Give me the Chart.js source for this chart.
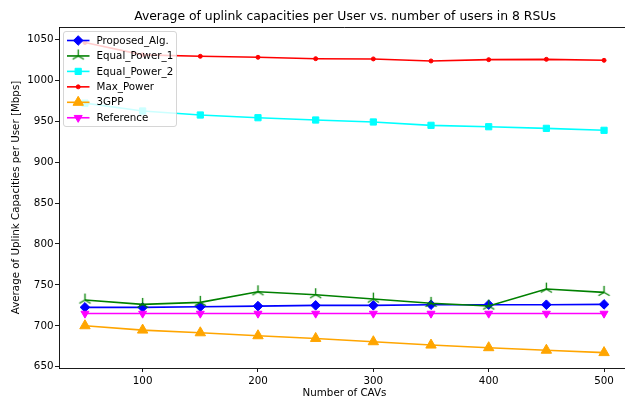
<!DOCTYPE html>
<html><head><meta charset="utf-8">
<script src="https://cdn.jsdelivr.net/npm/chart.js@4/dist/chart.umd.min.js"></script>
<style>html,body{margin:0;padding:0;background:#fff;overflow:hidden}#wrap{width:625px;height:401px;position:relative;overflow:hidden}canvas{display:block}</style>
</head><body><div id="wrap"><canvas id="c" width="637" height="401"></canvas></div>
<script>
// ---- data ----
const xValues = [50, 100, 150, 200, 250, 300, 350, 400, 450, 500];
const proposedAlg = [722.6, 722.6, 723.3, 724.1, 725.0, 725.0, 725.8, 725.8, 725.8, 726.2];
const equalPower1 = [731.5, 726.2, 728.7, 741.6, 738.0, 732.7, 727.5, 724.2, 744.9, 740.9];
const equalPower2 = [972.0, 962.4, 957.5, 954.2, 951.4, 949.0, 944.9, 943.2, 941.2, 938.8];
const maxPower = [1046.0, 1031.0, 1029.2, 1028.0, 1026.3, 1026.0, 1023.5, 1025.1, 1025.5, 1024.3];
const gpp3 = [700.1, 694.8, 691.5, 687.9, 684.6, 680.6, 676.5, 673.3, 670.2, 667.3];
const referenceVals = [715, 715, 715, 715, 715, 715, 715, 715, 715, 715];
const seriesNames = ['Proposed_Alg.', 'Equal_Power_1', 'Equal_Power_2', 'Max_Power', '3GPP', 'Reference'];
const xTickValues = [100, 200, 300, 400, 500];
const yTickValues = [650, 700, 750, 800, 850, 900, 950, 1000, 1050];
const chartTitle = 'Average of uplink capacities per User vs. number of users in 8 RSUs';
const xTitle = 'Number of CAVs';
const yTitle = 'Average of Uplink Capacities per User [Mbps]';

const FONT = "'DejaVu Sans', sans-serif";

// tri_up marker as canvas
function triUp(color, arm, lw) {
  const s = Math.ceil(arm * 2 + 4);
  const cv = document.createElement('canvas');
  cv.width = s; cv.height = s;
  const g = cv.getContext('2d');
  const c = s / 2;
  g.strokeStyle = color; g.lineWidth = lw; g.lineCap = 'butt';
  g.beginPath();
  g.moveTo(c, c); g.lineTo(c, c - arm);
  g.moveTo(c, c); g.lineTo(c - arm * Math.sqrt(3) / 2, c + arm / 2);
  g.moveTo(c, c); g.lineTo(c + arm * Math.sqrt(3) / 2, c + arm / 2);
  g.stroke();
  return cv;
}
const triGreen = triUp('#008000', 6.5, 1.3);

const allSeries = [proposedAlg, equalPower1, equalPower2, maxPower, gpp3, referenceVals];
const styles = [
  {color: '#0000ff', pointStyle: 'rectRot', radius: 4.8, rotation: 0},
  {color: '#008000', pointStyle: triGreen, radius: 6, rotation: 0},
  {color: '#00ffff', pointStyle: 'rect', radius: 4.4, rotation: 0},
  {color: '#ff0000', pointStyle: 'circle', radius: 2.0, rotation: 0},
  {color: '#ffa500', pointStyle: 'triangle', radius: 6.0, rotation: 0},
  {color: '#ff00ff', pointStyle: 'triangle', radius: 4.6, rotation: 180}
];

const datasets = allSeries.map((arr, i) => ({
  label: seriesNames[i],
  data: arr.map((v, k) => ({x: xValues[k], y: v})),
  borderColor: styles[i].color,
  backgroundColor: styles[i].color,
  borderWidth: 1.6,
  pointStyle: styles[i].pointStyle,
  pointRadius: styles[i].radius,
  pointRotation: styles[i].rotation,
  pointBorderWidth: 1,
  pointBorderColor: styles[i].color,
  pointBackgroundColor: styles[i].color,
  tension: 0,
  fill: false,
  order: allSeries.length - i
}));

const framePlugin = {
  id: 'frame',
  afterDraw(chart) {
    const {ctx, chartArea: a} = chart;
    ctx.save();
    ctx.strokeStyle = '#000'; ctx.lineWidth = 0.9;
    ctx.beginPath();
    ctx.moveTo(a.left, a.top + 0.5); ctx.lineTo(a.right, a.top + 0.5);
    ctx.stroke();
    // title
    ctx.fillStyle = '#000';
    ctx.font = '12.4px ' + FONT;
    ctx.textAlign = 'center'; ctx.textBaseline = 'middle';
    ctx.fillText(chartTitle, 345, 17);
    ctx.restore();
  }
};

const legendPlugin = {
  id: 'customLegend',
  afterDraw(chart) {
    const {ctx} = chart;
    ctx.save();
    const bx = 63.5, by = 31.5, bw = 113, bh = 95, r = 2.5;
    ctx.beginPath();
    ctx.moveTo(bx + r, by);
    ctx.lineTo(bx + bw - r, by); ctx.arcTo(bx + bw, by, bx + bw, by + r, r);
    ctx.lineTo(bx + bw, by + bh - r); ctx.arcTo(bx + bw, by + bh, bx + bw - r, by + bh, r);
    ctx.lineTo(bx + r, by + bh); ctx.arcTo(bx, by + bh, bx, by + bh - r, r);
    ctx.lineTo(bx, by + r); ctx.arcTo(bx, by, bx + r, by, r);
    ctx.closePath();
    ctx.fillStyle = 'rgba(255,255,255,0.8)';
    ctx.fill();
    ctx.strokeStyle = 'rgba(204,204,204,0.8)';
    ctx.lineWidth = 1;
    ctx.stroke();
    ctx.font = '10.3px ' + FONT;
    ctx.textAlign = 'left'; ctx.textBaseline = 'middle';
    for (let i = 0; i < seriesNames.length; i++) {
      const y = 40.5 + i * 15.45;
      const st = styles[i];
      ctx.strokeStyle = st.color; ctx.lineWidth = 1.6;
      ctx.beginPath(); ctx.moveTo(67, y); ctx.lineTo(89.5, y); ctx.stroke();
      ctx.fillStyle = st.color; ctx.strokeStyle = st.color; ctx.lineWidth = 1;
      Chart.helpers.drawPoint(ctx, {pointStyle: st.pointStyle, radius: st.radius, rotation: st.rotation, borderWidth: 1}, 78.2, y);
      ctx.fillStyle = '#000';
      ctx.fillText(seriesNames[i], 96.5, y + 0.5);
    }
    ctx.restore();
  }
};

const tickFont = {family: FONT, size: 10.3};

new Chart(document.getElementById('c').getContext('2d'), {
  type: 'line',
  data: {datasets},
  options: {
    responsive: false,
    animation: false,
    devicePixelRatio: 1,
    layout: {padding: {top: 27, left: 0, right: 0, bottom: 0}},
    plugins: {legend: {display: false}, title: {display: false}, tooltip: {enabled: false}},
    scales: {
      x: {
        type: 'linear', min: 27.5, max: 522.5,
        afterFit(s) { s.height = 33; s.paddingLeft = 0; s.paddingRight = 0; },
        afterBuildTicks(s) { s.ticks = xTickValues.map(v => ({value: v})); },
        grid: {display: true, drawOnChartArea: false, drawTicks: true, tickLength: 4, tickColor: '#000', tickWidth: 0.9},
        border: {display: true, color: '#000', width: 0.9},
        ticks: {color: '#000', font: tickFont, padding: 3, maxRotation: 0, autoSkip: false, callback: v => String(v)},
        title: {display: true, text: xTitle, color: '#000', font: tickFont, padding: {top: 0, bottom: 1}}
      },
      y: {
        type: 'linear', min: 648.5, max: 1065,
        afterFit(s) { s.width = 59; s.paddingTop = 0; s.paddingBottom = 0; },
        afterBuildTicks(s) { s.ticks = yTickValues.map(v => ({value: v})); },
        grid: {display: true, drawOnChartArea: false, drawTicks: true, tickLength: 4, tickColor: '#000', tickWidth: 0.9},
        border: {display: true, color: '#000', width: 0.9},
        ticks: {color: '#000', font: tickFont, padding: 1.5, autoSkip: false, callback: v => String(v)},
        title: {display: true, text: yTitle, color: '#000', font: tickFont, padding: {top: 10.5, bottom: 0}}
      }
    }
  },
  plugins: [framePlugin, legendPlugin]
});
</script>
</body></html>
